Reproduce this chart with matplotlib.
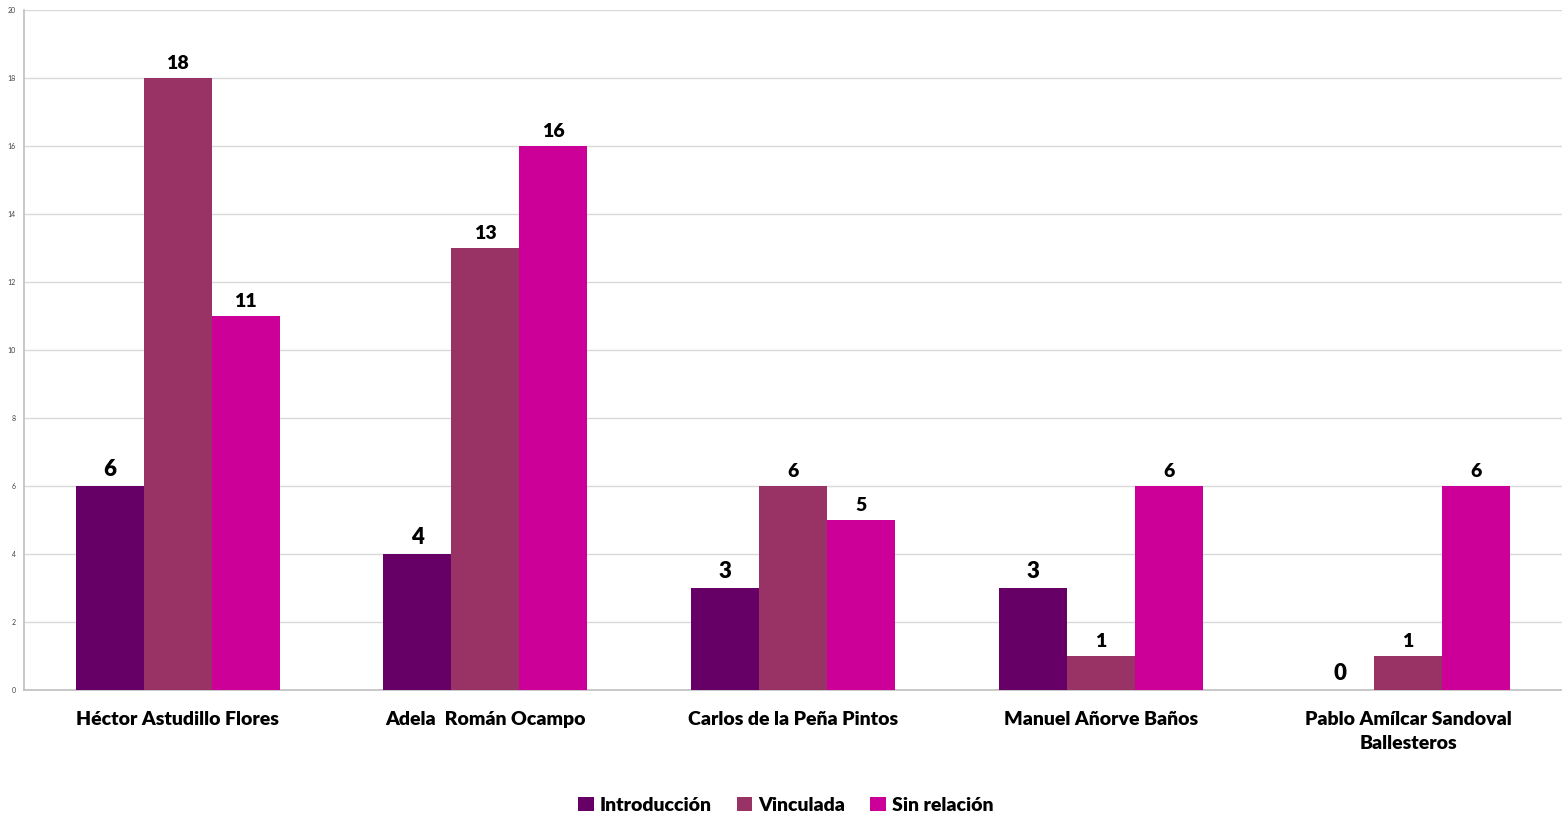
import numpy as np
import matplotlib.pyplot as plt

# --- data ---
categories = ["Héctor Astudillo Flores", "Adela  Román Ocampo", "Carlos de la Peña Pintos",
              "Manuel Añorve Baños", "Pablo Amílcar Sandoval\nBallesteros"]
introduccion = [6, 4, 3, 3, 0]
vinculada = [18, 13, 6, 1, 1]
sin_relacion = [11, 16, 5, 6, 6]
series_names = ["Introducción", "Vinculada", "Sin relación"]
colors = ["#660066", "#993366", "#CC0099"]

plt.rcParams['font.family'] = ['Lato', 'DejaVu Sans']

fig = plt.figure(figsize=(15.62, 8.15), dpi=100)
ax = fig.add_axes([0.0154, 0.1534, 0.9846, 0.8343])

x = np.arange(len(categories))
w = 0.221
label_sizes = [16, 14, 14]
for k, (vals, name, col) in enumerate(zip([introduccion, vinculada, sin_relacion], series_names, colors)):
    pos = x + (k - 1) * w
    bars = ax.bar(pos, vals, width=w, color=col, label=name, zorder=3)
    for b, v in zip(bars, vals):
        ax.annotate(str(v), (b.get_x() + b.get_width() / 2, v), xytext=(0, 4),
                    textcoords="offset points", ha="center", va="bottom",
                    fontsize=label_sizes[k], fontweight="heavy", color="black")

ax.set_xlim(-0.5, len(categories) - 0.5)
ax.set_ylim(0, 20)
ax.set_yticks(range(0, 21, 2))
ax.tick_params(axis="y", labelsize=5, length=0, pad=6, labelcolor="#404040")
ax.set_xticks(x)
ax.set_xticklabels(categories, fontsize=14, fontweight="heavy", linespacing=1.5)
ax.tick_params(axis="x", length=0, pad=15)
ax.grid(axis="y", color="#d9d9d9", linewidth=1, zorder=0)
for s in ["top", "right"]:
    ax.spines[s].set_visible(False)
for s in ["left", "bottom"]:
    ax.spines[s].set_color("#bfbfbf")
    ax.spines[s].set_linewidth(1.2)

fig.legend(loc="lower center", bbox_to_anchor=(0.503, -0.02), ncol=3, frameon=False,
           prop={"size": 14, "weight": "heavy"}, handlelength=0.8, handleheight=0.8,
           handletextpad=0.3, columnspacing=1.3)

fig.savefig("out.png", dpi=100)
